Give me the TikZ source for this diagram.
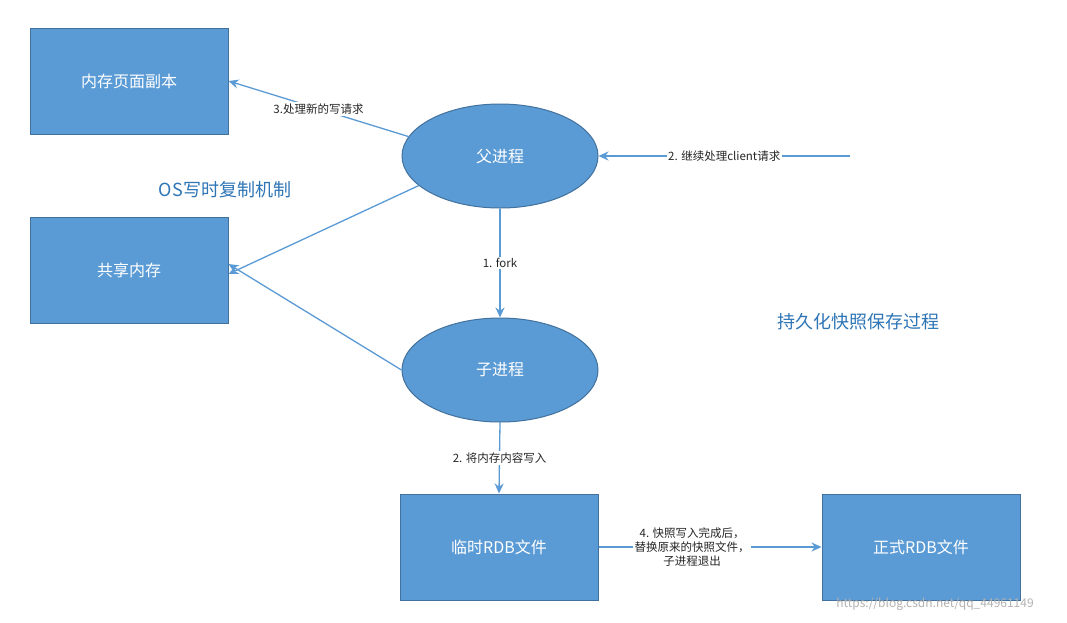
\documentclass[tikz,border=0pt]{standalone}
\usepackage{fontspec}
\setmainfont{Noto Sans CJK SC}
\usetikzlibrary{shapes.geometric,arrows.meta}
\definecolor{fillb}{HTML}{5B9BD5}
\definecolor{edgeb}{HTML}{41719C}
\definecolor{lineb}{HTML}{5B9BD5}
\definecolor{titleb}{HTML}{2E75B6}
\begin{document}
\begin{tikzpicture}[x=1pt,y=-1pt,
  box/.style={draw=edgeb,fill=fillb,line width=1pt,minimum width=198pt,minimum height=106pt,text=white,font=\fontsize{16}{18}\selectfont,inner sep=0pt},
  ell/.style={ellipse,draw=edgeb,fill=fillb,line width=1pt,minimum width=196pt,minimum height=104pt,text=white,font=\fontsize{16}{18}\selectfont,inner sep=0pt},
  arr/.style={draw=lineb,line width=1.3pt,-{Stealth[length=10pt,width=9pt]}},
  lab/.style={fill=white,inner sep=1.5pt,font=\fontsize{11.5}{14}\selectfont,text=black!85,align=center},
  title/.style={text=titleb,font=\fontsize{18}{20}\selectfont}]
\useasboundingbox[fill=white] (0,0) rectangle (1067,622);
\node[box] (copy) at (129,81) {内存页面副本};
\node[box] (shared) at (129,270) {共享内存};
\node[ell] (parent) at (500,156) {父进程};
\node[ell] (child) at (500,370) {子进程};
\node[box] (tmp) at (499,547) {临时RDB文件};
\node[box] (final) at (921,547) {正式RDB文件};
\node[title] (os) at (225,190) {OS写时复制机制};
\node[title] (tt) at (858,322) {持久化快照保存过程};
\coordinate (client) at (850,156);
\draw[arr] (parent.168) -- node[lab,pos=0.5] {3.处理新的写请求} (copy.east);
\draw[arr] (parent.200) -- ([yshift=-4pt]shared.east);
\draw[arr] (child.west) -- ([yshift=6pt]shared.east);
\draw[arr] (client) -- node[lab] {2. 继续处理client请求} (parent.east);
\draw[arr] (parent.south) -- node[lab] {1. fork} (child.north);
\draw[arr] (child.south) -- node[lab] {2. 将内存内容写入} (tmp.north);
\draw[arr] (tmp.east) -- node[lab,pos=0.42] {4. 快照写入完成后，\\替换原来的快照文件，\\子进程退出} (final.west);
\node[text=black!30,font=\fontsize{12}{14}\selectfont] (wm) at (935,604) {https://blog.csdn.net/qq\_44961149};
\end{tikzpicture}
\end{document}
